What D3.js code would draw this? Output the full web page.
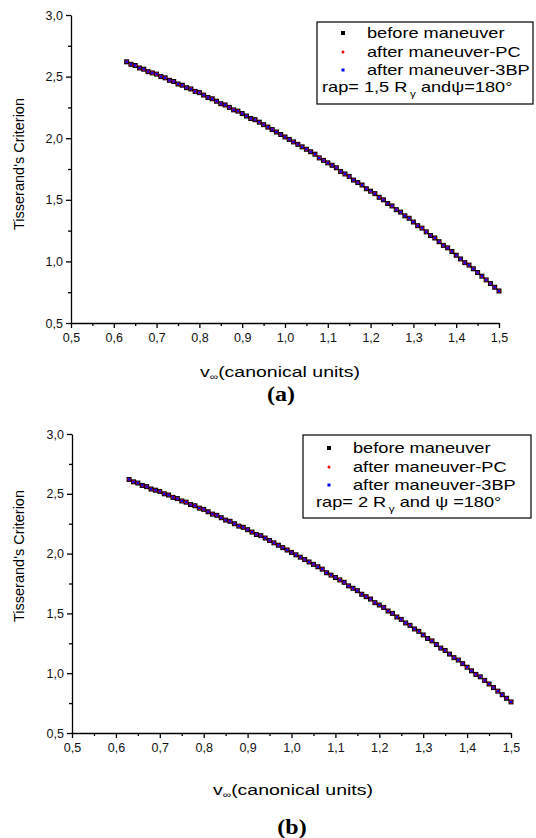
<!DOCTYPE html>
<html>
<head>
<meta charset="utf-8">
<script src="https://cdn.jsdelivr.net/npm/d3@7"></script>
<style>
  body { margin: 0; background: #fff; }
</style>
</head>
<body>
<div id="chart"></div>
<script>
// v-infinity values (canonical units)
const vInf = [0.63, 0.64, 0.65, 0.66, 0.67, 0.68, 0.69, 0.70, 0.71, 0.72, 0.73, 0.74, 0.75, 0.76, 0.77, 0.78, 0.79,
  0.80, 0.81, 0.82, 0.83, 0.84, 0.85, 0.86, 0.87, 0.88, 0.89, 0.90, 0.91, 0.92, 0.93, 0.94, 0.95, 0.96, 0.97, 0.98, 0.99,
  1.00, 1.01, 1.02, 1.03, 1.04, 1.05, 1.06, 1.07, 1.08, 1.09, 1.10, 1.11, 1.12, 1.13, 1.14, 1.15, 1.16, 1.17, 1.18, 1.19,
  1.20, 1.21, 1.22, 1.23, 1.24, 1.25, 1.26, 1.27, 1.28, 1.29, 1.30, 1.31, 1.32, 1.33, 1.34, 1.35, 1.36, 1.37, 1.38, 1.39,
  1.40, 1.41, 1.42, 1.43, 1.44, 1.45, 1.46, 1.47, 1.48, 1.49, 1.50];

// Tisserand's criterion, before maneuver
const tBefore = [2.62, 2.60, 2.59, 2.57, 2.56, 2.54, 2.53, 2.52, 2.50, 2.49, 2.47, 2.46, 2.44, 2.43, 2.41, 2.40, 2.38,
  2.37, 2.35, 2.33, 2.32, 2.30, 2.28, 2.27, 2.25, 2.23, 2.22, 2.20, 2.18, 2.16, 2.15, 2.13, 2.11, 2.09, 2.07, 2.05, 2.03,
  2.01, 1.99, 1.97, 1.95, 1.93, 1.91, 1.89, 1.87, 1.84, 1.82, 1.80, 1.78, 1.76, 1.73, 1.71, 1.69, 1.66, 1.64, 1.62, 1.59,
  1.57, 1.55, 1.52, 1.50, 1.47, 1.45, 1.42, 1.40, 1.37, 1.35, 1.32, 1.29, 1.27, 1.24, 1.21, 1.19, 1.16, 1.13, 1.11, 1.08,
  1.05, 1.02, 0.99, 0.97, 0.94, 0.91, 0.88, 0.85, 0.82, 0.79, 0.76];

// after maneuver (patched conics and 3-body) overlap the first series in the picture
const tPC = tBefore.slice();
const t3BP = tBefore.slice();

const xTicks = [0.5, 0.6, 0.7, 0.8, 0.9, 1.0, 1.1, 1.2, 1.3, 1.4, 1.5];
const yTicks = [0.5, 1.0, 1.5, 2.0, 2.5, 3.0];
const legendLabels = ['before maneuver', 'after maneuver-PC', 'after maneuver-3BP'];

const W = 536, H = 838;
const SANS = '"Liberation Sans", Arial, sans-serif';
const comma = d => d3.format('.1f')(d).replace('.', ',');

const svg = d3.select('#chart').append('svg')
  .attr('width', W)
  .attr('height', H)
  .attr('font-family', SANS);

const panels = [
  { x0: 71, x1: 499, y0: 15, y1: 323, tag: '(a)', tagX: 281, tagY: 401, labX: 280, labY: 377, ylabX: 24, ylabY: 164,
    legend: { x: 317, y: 22, w: 216, h: 82, mx: 343, tx: 367, rows: [33, 52, 70], rapY: 92, rapX: 322,
      rap: ['rap= 1,5 R', 'γ', ' and', 'ψ=180°'] } },
  { x0: 72, x1: 511, y0: 434, y1: 733, tag: '(b)', tagX: 292, tagY: 834, labX: 293, labY: 795, ylabX: 24, ylabY: 556,
    legend: { x: 303, y: 435, w: 228, h: 83, mx: 329, tx: 353, rows: [448, 467, 485], rapY: 507, rapX: 316,
      rap: ['rap= 2 R', 'γ', ' and ', 'ψ =180°'] } }
];

panels.forEach(function(p) {
  const g = svg.append('g');

  const x = d3.scaleLinear().domain([0.5, 1.5]).range([p.x0, p.x1]);
  const y = d3.scaleLinear().domain([0.5, 3.0]).range([p.y1, p.y0]);

  // minor ticks
  g.append('g')
    .attr('transform', 'translate(0,' + p.y1 + ')')
    .call(d3.axisBottom(x).tickValues([0.55, 0.65, 0.75, 0.85, 0.95, 1.05, 1.15, 1.25, 1.35, 1.45]).tickSize(3).tickFormat(''))
    .call(s => s.select('.domain').remove());
  g.append('g')
    .attr('transform', 'translate(' + p.x0 + ',0)')
    .call(d3.axisLeft(y).tickValues([0.75, 1.25, 1.75, 2.25, 2.75]).tickSize(3).tickFormat(''))
    .call(s => s.select('.domain').remove());

  // major axes
  const xa = g.append('g')
    .attr('transform', 'translate(0,' + p.y1 + ')')
    .call(d3.axisBottom(x).tickValues(xTicks).tickSize(5).tickSizeOuter(0).tickFormat(comma));
  g.append('g')
    .attr('transform', 'translate(' + p.x0 + ',0)')
    .call(d3.axisLeft(y).tickValues(yTicks).tickSize(5).tickSizeOuter(0).tickFormat(comma));

  g.selectAll('.domain, .tick line').attr('stroke', '#000').attr('stroke-width', 1.3);
  g.selectAll('.tick text').attr('font-size', 12.5).attr('fill', '#111').attr('font-family', SANS);
  xa.selectAll('.tick text').attr('dy', '0.85em');

  // y axis title
  g.append('text')
    .attr('transform', 'translate(' + p.ylabX + ',' + p.ylabY + ') rotate(-90)')
    .attr('text-anchor', 'middle')
    .attr('font-size', 14.5)
    .text("Tisserand's Criterion");

  // x axis title (the figure is stretched horizontally)
  const xl = g.append('text')
    .attr('transform', 'translate(' + p.labX + ',' + p.labY + ') scale(1.3,1)')
    .attr('text-anchor', 'middle')
    .attr('font-size', 15);
  xl.append('tspan').text('v');
  xl.append('tspan').attr('dy', 3).attr('font-size', 9).text('∞');
  xl.append('tspan').attr('dy', -3).text('(canonical units)');

  // panel tag
  g.append('text')
    .attr('transform', 'translate(' + p.tagX + ',' + p.tagY + ') scale(1.2,1)')
    .attr('text-anchor', 'middle')
    .attr('font-family', '"Liberation Serif", "Times New Roman", serif')
    .attr('font-weight', 'bold')
    .attr('font-size', 20)
    .text(p.tag);

  // data
  const pts = (arr) => vInf.map((v, i) => [v, arr[i]]);

  g.append('g').selectAll('rect')
    .data(pts(tBefore))
    .enter()
    .append('rect')
    .attr('x', d => x(d[0]) - 2.5)
    .attr('y', d => y(d[1]) - 2.5)
    .attr('width', 5)
    .attr('height', 5)
    .attr('fill', '#000');

  g.append('g').selectAll('circle')
    .data(pts(tPC))
    .enter()
    .append('circle')
    .attr('cx', d => x(d[0]))
    .attr('cy', d => y(d[1]))
    .attr('r', 1.8)
    .attr('fill', '#ff0000');

  g.append('g').selectAll('rect')
    .data(pts(t3BP))
    .enter()
    .append('rect')
    .attr('x', d => x(d[0]) - 1.2)
    .attr('y', d => y(d[1]) - 1.2)
    .attr('width', 2.4)
    .attr('height', 2.4)
    .attr('fill', '#0000ff');

  // legend
  const L = p.legend;
  const lg = g.append('g');
  lg.append('rect')
    .attr('x', L.x).attr('y', L.y)
    .attr('width', L.w).attr('height', L.h)
    .attr('fill', '#fff')
    .attr('stroke', '#000')
    .attr('stroke-width', 1.2);

  lg.append('rect').attr('x', L.mx - 2).attr('y', L.rows[0] - 2).attr('width', 4).attr('height', 4).attr('fill', '#000');
  lg.append('circle').attr('cx', L.mx).attr('cy', L.rows[1]).attr('r', 1.5).attr('fill', '#ff0000');
  lg.append('rect').attr('x', L.mx - 1.5).attr('y', L.rows[2] - 1.5).attr('width', 3).attr('height', 3).attr('fill', '#0000ff');

  lg.selectAll('text.lab')
    .data(legendLabels)
    .enter()
    .append('text')
    .attr('class', 'lab')
    .attr('transform', (d, i) => 'translate(' + L.tx + ',' + (L.rows[i] + 5) + ') scale(1.3,1)')
    .attr('font-size', 14)
    .text(d => d);

  const rt = lg.append('text')
    .attr('transform', 'translate(' + L.rapX + ',' + L.rapY + ') scale(1.3,1)')
    .attr('font-size', 14);
  rt.append('tspan').text(L.rap[0]);
  rt.append('tspan').attr('dy', 5).attr('dx', 2).attr('font-size', 9).text(L.rap[1]);
  rt.append('tspan').attr('dy', -5).text(L.rap[2]);
  rt.append('tspan').text(L.rap[3]);
});
</script>
</body>
</html>
